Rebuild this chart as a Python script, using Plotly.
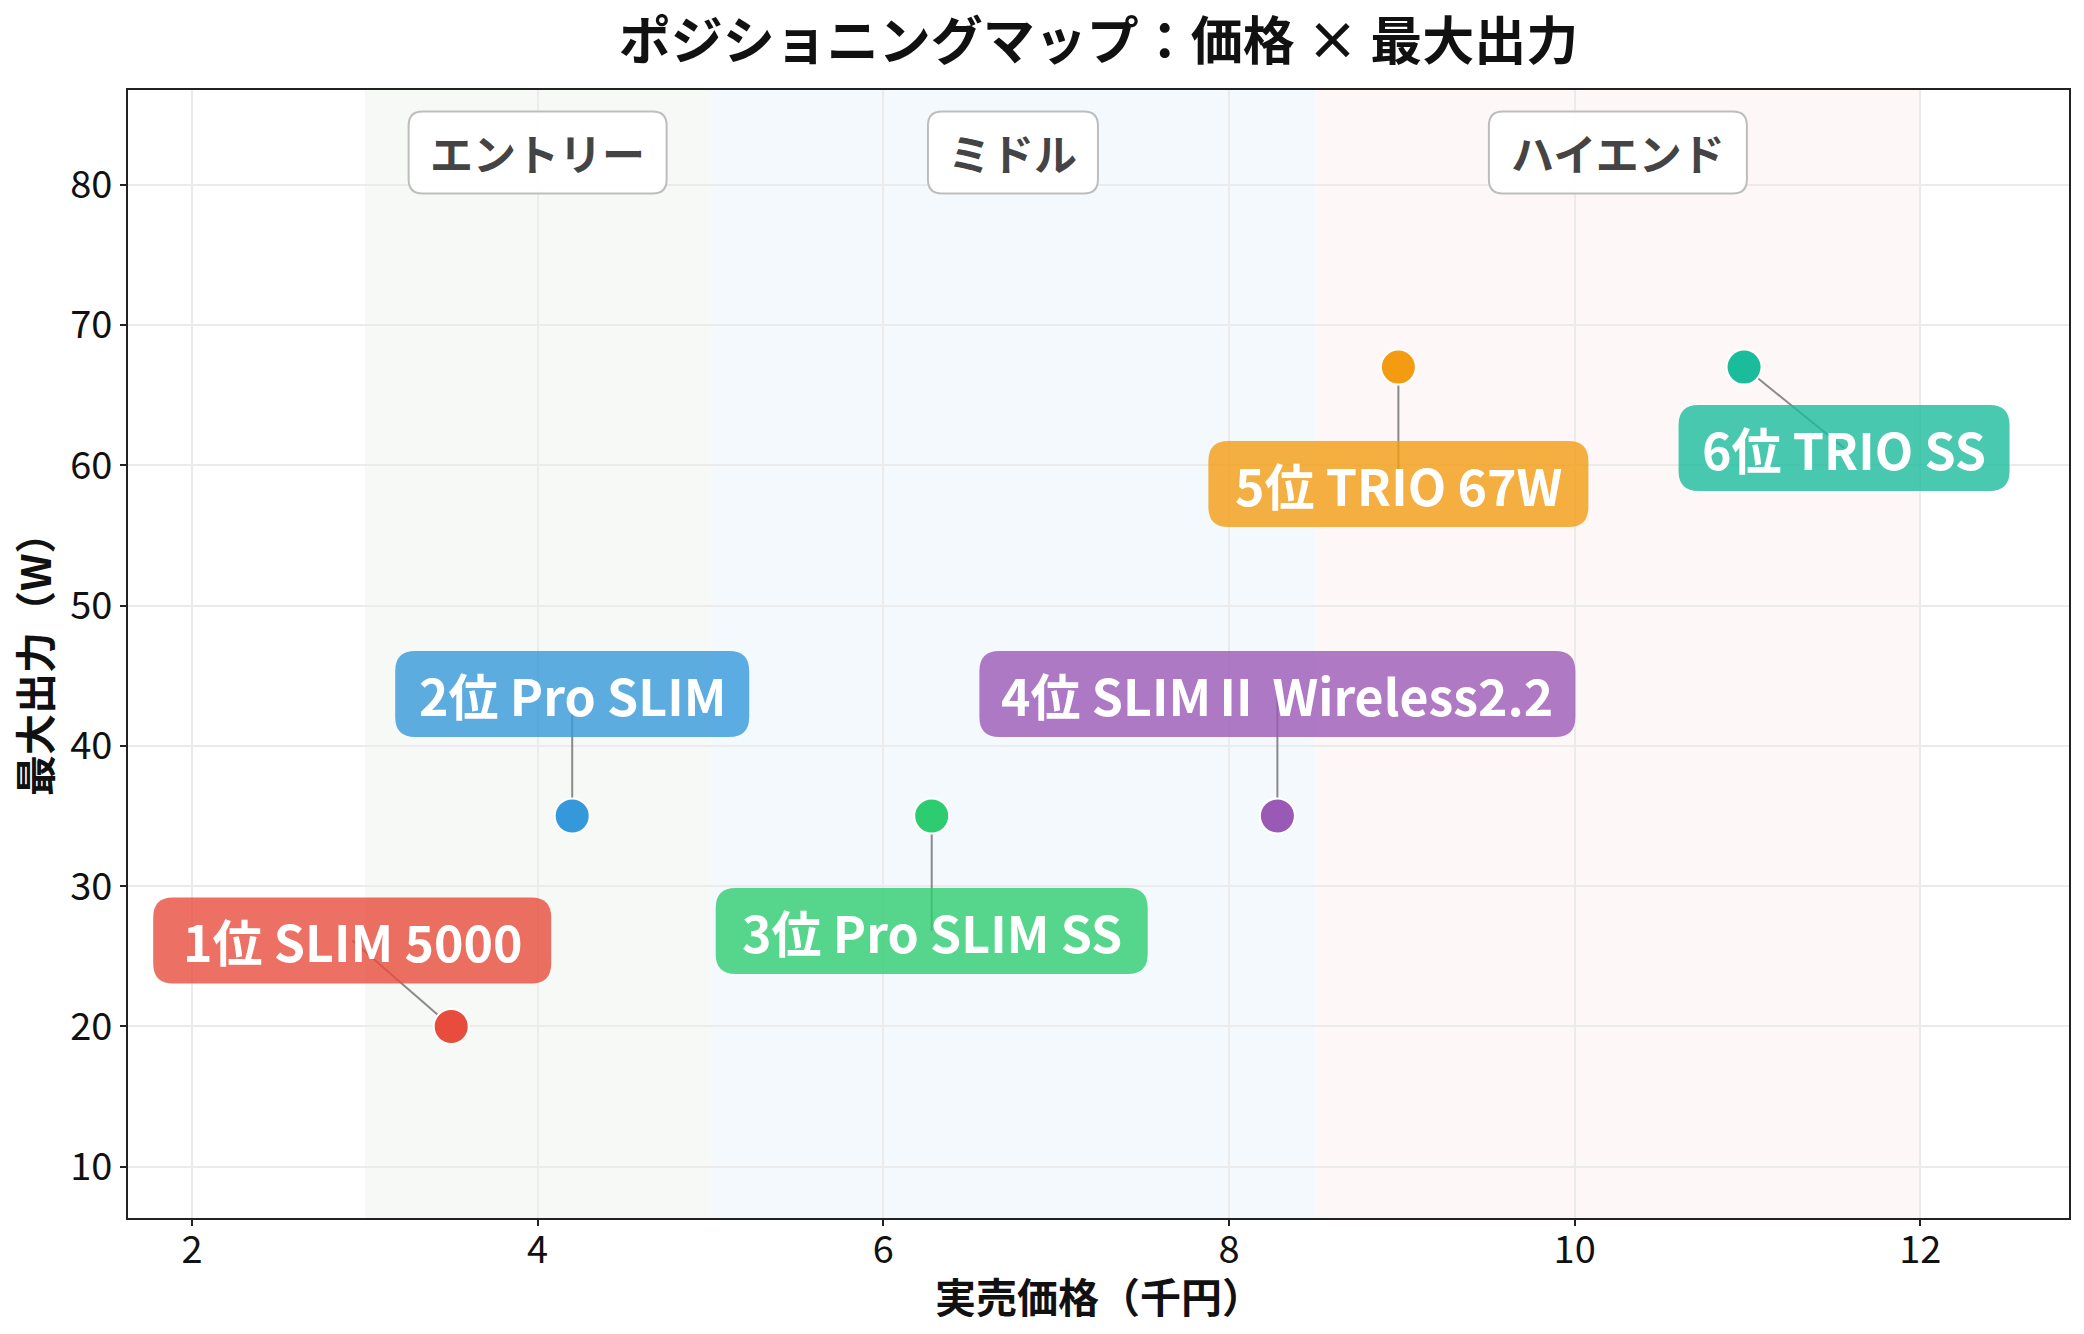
import plotly.graph_objects as go

# ---- data ----
products = ["1位 SLIM 5000", "2位 Pro SLIM", "3位 Pro SLIM SS", "4位 SLIMⅡ Wireless2.2", "5位 TRIO 67W", "6位 TRIO SS"]
price_k = [3.5, 4.2, 6.28, 8.28, 8.98, 10.98]
max_w = [20, 35, 35, 35, 67, 67]
colors = ["#e74c3c", "#3498db", "#2ecc71", "#9b59b6", "#f39c12", "#1abc9c"]
box_fill = ["rgba(231,76,60,0.8)", "rgba(52,152,219,0.8)", "rgba(46,204,113,0.8)",
            "rgba(155,89,182,0.8)", "rgba(243,156,18,0.8)", "rgba(26,188,156,0.8)"]

segments = ["エントリー", "ミドル", "ハイエンド"]
seg_start = [3.0, 5.0, 8.5]
seg_end = [5.0, 8.5, 12.0]
seg_colors = ["#f7f9f6", "#f4f9fd", "#fdf7f7"]
seg_label_y = 82.3

x_ticks = [2, 4, 6, 8, 10, 12]
y_ticks = [10, 20, 30, 40, 50, 60, 70, 80]

# label layout (screen pixel offsets from point, +down) and box widths
label_off = [(-99, -86), (0, -122), (0, 115), (0, -122), (0, 117), (100, 81)]
label_w = [398, 354, 432, 596, 380, 331]
label_h = 86
seg_box_w = [258, 170, 258]
seg_box_h = 82

FONT = "Noto Sans CJK JP"


def rrect(cx, cy, w, h, r):
    x0, x1 = cx - w / 2, cx + w / 2
    y0, y1 = cy - h / 2, cy + h / 2
    return (f"M{x0 + r},{y0} L{x1 - r},{y0} Q{x1},{y0} {x1},{y0 + r} "
            f"L{x1},{y1 - r} Q{x1},{y1} {x1 - r},{y1} L{x0 + r},{y1} "
            f"Q{x0},{y1} {x0},{y1 - r} L{x0},{y0 + r} Q{x0},{y0} {x0 + r},{y0} Z")


fig = go.Figure()

fig.add_trace(go.Scatter(
    x=price_k, y=max_w, mode="markers",
    marker=dict(size=35, color=colors, line=dict(color="white", width=2)),
    hoverinfo="skip", showlegend=False,
))

shapes = []
annotations = []

# segment bands
for s, e, c in zip(seg_start, seg_end, seg_colors):
    shapes.append(dict(type="rect", xref="x", yref="paper", x0=s, x1=e, y0=0, y1=1,
                       fillcolor=c, line=dict(width=0), layer="below"))

# segment labels
for name, s, e, w in zip(segments, seg_start, seg_end, seg_box_w):
    cx = (s + e) / 2
    shapes.append(dict(type="path", xref="x", yref="y", xsizemode="pixel", ysizemode="pixel",
                       xanchor=cx, yanchor=seg_label_y, path=rrect(0, 0, w, seg_box_h, 14),
                       fillcolor="rgba(255,255,255,0.95)", line=dict(color="#bdbdbd", width=2),
                       layer="above"))
    annotations.append(dict(x=cx, y=seg_label_y, xref="x", yref="y", text=f"<b>{name}</b>",
                            showarrow=False, font=dict(family=FONT, size=43, color="#444444"),
                            xanchor="center", yanchor="middle"))

# product labels
for name, x, y, (dx, dy), w, bf in zip(products, price_k, max_w, label_off, label_w, box_fill):
    shapes.append(dict(type="line", xref="x", yref="y", xsizemode="pixel", ysizemode="pixel",
                       xanchor=x, yanchor=y, x0=0, y0=0, x1=dx, y1=-dy,
                       line=dict(color="rgba(110,110,110,0.8)", width=2), layer="between"))
    shapes.append(dict(type="path", xref="x", yref="y", xsizemode="pixel", ysizemode="pixel",
                       xanchor=x, yanchor=y, path=rrect(dx, -dy, w, label_h, 20),
                       fillcolor=bf, line=dict(width=0), layer="above"))
    annotations.append(dict(x=x, y=y, xref="x", yref="y", xshift=dx, yshift=-dy,
                            text=f"<b>{name}</b>", showarrow=False,
                            font=dict(family=FONT, size=50, color="white"),
                            xanchor="center", yanchor="middle"))

# axis titles
annotations.append(dict(x=0.5, y=0, xref="paper", yref="paper", yshift=-77,
                        text="<b>実売価格（千円）</b>", showarrow=False, height=44,
                        font=dict(family=FONT, size=41, color="#111111"),
                        xanchor="center", yanchor="middle"))
annotations.append(dict(x=0, y=0.5, xref="paper", yref="paper", xshift=-95,
                        text="<b>最大出力（W）</b>", showarrow=False, textangle=-90,
                        font=dict(family=FONT, size=41, color="#111111"),
                        xanchor="center", yanchor="middle"))

fig.update_layout(
    width=2084, height=1334,
    margin=dict(l=128, r=15, t=90, b=116),
    paper_bgcolor="white", plot_bgcolor="white",
    font=dict(family=FONT, color="#111111"),
    title=dict(text="<b>ポジショニングマップ：価格 × 最大出力</b>", x=0.5, xanchor="center",
               xref="paper", y=1 - 42 / 1334, yanchor="middle", yref="container",
               font=dict(family=FONT, size=52, color="#111111")),
    shapes=shapes, annotations=annotations,
)

axis_common = dict(showline=True, linecolor="#222222", linewidth=2, mirror=True,
                   ticks="outside", ticklen=6, tickwidth=1.5, tickcolor="#222222",
                   showgrid=True, gridcolor="#ebebeb", gridwidth=1.5, zeroline=False,
                   tickfont=dict(family=FONT, size=38, color="#111111"))

fig.update_xaxes(range=[1.63, 12.86], tickvals=x_ticks, ticklabelstandoff=-9, **axis_common)
fig.update_yaxes(range=[6.35, 86.75], tickvals=y_ticks, **axis_common)

fig.write_html("out.html")
